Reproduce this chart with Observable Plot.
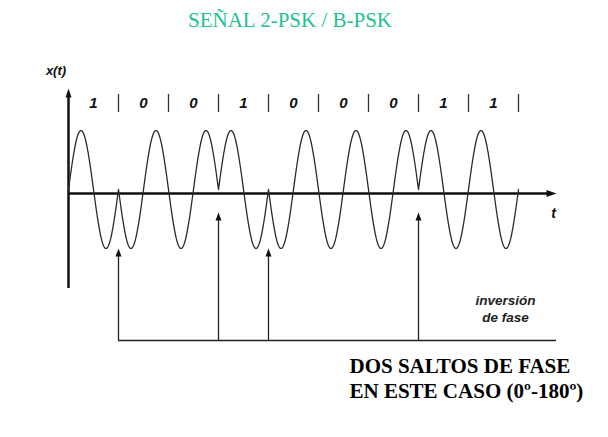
<!DOCTYPE html>
<html>
<head>
<meta charset="utf-8">
<script src="https://cdn.jsdelivr.net/npm/d3@7"></script>
<script src="https://cdn.jsdelivr.net/npm/@observablehq/plot@0.6"></script>
<style>
  html, body { margin: 0; padding: 0; background: #fff; }
  #chart svg { display: block; }
</style>
</head>
<body>
<div id="chart"></div>
<script>
// ---- data ----
const bits = [1, 0, 0, 1, 0, 0, 0, 1, 1];
const bitLabels = ["1", "0", "0", "1", "0", "0", "0", "1", "1"];
const titleText = ["SEÑAL 2-PSK / B-PSK"];
const yAxisLabel = ["x(t)"];
const xAxisLabel = ["t"];
const noteLines = ["inversión", "de fase"];
const captionLines = ["DOS SALTOS DE FASE", "EN ESTE CASO (0º-180º)"];

// ---- derived: BPSK waveform (bit 1 -> +sin, bit 0 -> -sin, one carrier cycle per bit) ----
const samplesPerBit = 90;
const signal = bits.flatMap((b, i) =>
  d3.range(samplesPerBit + (i === bits.length - 1 ? 1 : 0)).map(k => {
    const u = k / samplesPerBit;
    return {t: i + u, v: (b ? 1 : -1) * Math.sin(2 * Math.PI * u)};
  })
);
// phase jumps where consecutive bits differ
const jumps = bits
  .map((b, i) => ({t: i, from: bits[i - 1], to: b}))
  .filter(d => d.t > 0 && d.from !== d.to);

const sans = "'Liberation Sans', Arial, Helvetica, sans-serif";
const serif = "'Liberation Serif', 'Times New Roman', Times, serif";
const head = (w, h) => ({
  draw(ctx) { ctx.moveTo(0, 0); ctx.lineTo(-w / 2, h); ctx.lineTo(w / 2, h); ctx.closePath(); }
});
const ink = "#111";
const axisY = -0.068;
const lineY = -2.559;

const chart = Plot.plot({
  width: 608,
  height: 437,
  margin: 0,
  style: {background: "#fff", overflow: "visible"},
  x: {domain: [0, 10], range: [68, 568], axis: null},
  y: {domain: [-1, 1], range: [248, 130], axis: null},
  marks: [
    // title
    Plot.text(titleText, {x: 4.43, y: 2.746, text: d => d, lineAnchor: "bottom",
      fontFamily: serif, fontSize: 21, fill: "#22c193"}),
    // vertical axis
    Plot.ruleX([0], {y1: -1.678, y2: 1.6, stroke: ink, strokeWidth: 2.5}),
    Plot.dot([0], {x: 0, y: 1.712, symbol: head(6, 9), fill: ink, stroke: null, r: 4}),
    // horizontal axis
    Plot.ruleY([axisY], {x1: 0, x2: 9.64, stroke: ink, strokeWidth: 2.3}),
    Plot.dot([0], {x: 9.76, y: axisY, symbol: head(7, 10), fill: ink, stroke: null, rotate: 90, r: 4}),
    // axis labels
    Plot.text(yAxisLabel, {x: -0.25, y: 1.949, text: d => d, lineAnchor: "bottom",
      fontFamily: sans, fontWeight: "bold", fontStyle: "italic", fontSize: 13, fill: ink}),
    Plot.text(xAxisLabel, {x: 9.7, y: -0.475, text: d => d, lineAnchor: "bottom",
      fontFamily: sans, fontWeight: "bold", fontStyle: "italic", fontSize: 14, fill: ink}),
    // bit separators and labels
    Plot.ruleX(d3.range(1, bits.length + 1), {y1: 1.305, y2: 1.61, stroke: "#333", strokeWidth: 1.3}),
    Plot.text(bitLabels, {x: (d, i) => i + 0.5, y: 1.373, text: d => d, lineAnchor: "bottom",
      fontFamily: sans, fontWeight: "bold", fontStyle: "italic", fontSize: 15, fill: ink}),
    // waveform
    Plot.line(signal, {x: "t", y: "v", stroke: "#2a2a2a", strokeWidth: 1.3}),
    // phase-inversion arrows
    Plot.ruleX(jumps, {x: "t", y1: d => (d.to ? -0.49 : -1.1), y2: lineY, stroke: "#222", strokeWidth: 1.3}),
    Plot.dot(jumps, {x: "t", y: d => (d.to ? -0.39 : -1.0), symbol: head(6, 8), fill: ink, stroke: null, r: 4}),
    Plot.ruleY([lineY], {x1: jumps[0].t, x2: 9.76, stroke: "#222", strokeWidth: 1.3}),
    // note
    Plot.text([noteLines.join("\n")], {x: 8.74, y: -2.254, text: d => d, lineAnchor: "bottom",
      lineHeight: 1.3, fontFamily: sans, fontWeight: "bold", fontStyle: "italic", fontSize: 13.5, fill: "#222"}),
    // caption
    Plot.text([captionLines.join("\n")], {x: 5.62, y: -3.542, text: d => d, lineAnchor: "bottom",
      textAnchor: "start", lineHeight: 1.19, fontFamily: serif, fontWeight: "bold", fontSize: 21, fill: "#000"})
  ]
});
document.getElementById("chart").append(chart);
</script>
</body>
</html>
